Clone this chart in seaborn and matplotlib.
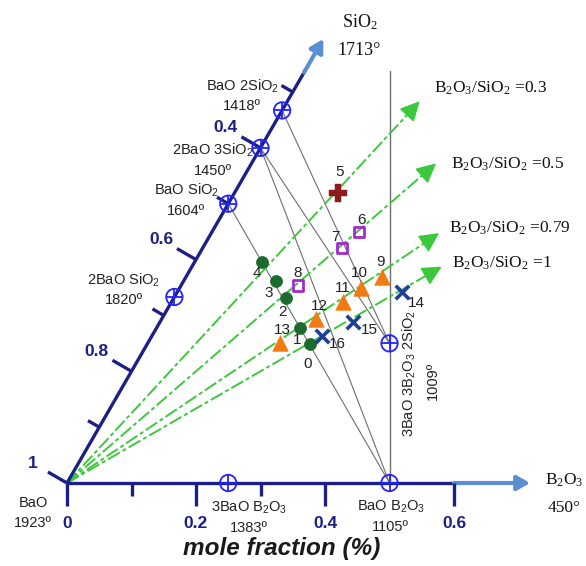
import numpy as np
import pandas as pd
import matplotlib
matplotlib.use("Agg")
import matplotlib.pyplot as plt
import seaborn as sns

# ------------------------------------------------------------------ data
# compounds of the BaO - B2O3 - SiO2 system (mole fractions)
compound_labels = ["BaO", "2BaO SiO$_\\mathsf{2}$", "BaO SiO$_\\mathsf{2}$",
                   "2BaO 3SiO$_\\mathsf{2}$", "BaO 2SiO$_\\mathsf{2}$",
                   "3BaO B$_\\mathsf{2}$O$_\\mathsf{3}$", "BaO B$_\\mathsf{2}$O$_\\mathsf{3}$",
                   "3BaO 3B$_\\mathsf{2}$O$_\\mathsf{3}$ 2SiO$_\\mathsf{2}$"]
compound_temps = ["1923º", "1820º", "1604º", "1450º", "1418º", "1383º", "1105º", "1009º"]
compound_b2o3 = [0.0, 0.0, 0.0, 0.0, 0.0, 0.25, 0.5, 0.375]
compound_sio2 = [0.0, 0.333, 0.5, 0.6, 0.667, 0.0, 0.0, 0.25]

# tie lines between compounds (indices)
tie_lines = [(3, 6), (3, 7), (4, 7), (2, 6)]

# B2O3/SiO2 ratio lines from the BaO corner
ratio_values = [0.3, 0.5, 0.79, 1.0]
ratio_labels = ["B$_2$O$_3$/SiO$_2$ =0.3", "B$_2$O$_3$/SiO$_2$ =0.5",
                "B$_2$O$_3$/SiO$_2$ =0.79", "B$_2$O$_3$/SiO$_2$ =1"]
ratio_lengths = [0.806, 0.757, 0.695, 0.671]

# glass samples 0..16
sample_ids = [str(i) for i in range(17)]
sample_b2o3 = [0.252, 0.223, 0.174, 0.143, 0.104, 0.160, 0.228, 0.216, 0.181,
               0.304, 0.281, 0.266, 0.239, 0.205, 0.348, 0.299, 0.264]
sample_sio2 = [0.249, 0.277, 0.331, 0.362, 0.396, 0.519, 0.449, 0.421, 0.354,
               0.369, 0.349, 0.324, 0.294, 0.251, 0.342, 0.288, 0.263]
sample_group = ["circle"] * 5 + ["plus"] + ["square"] * 3 + ["tri"] * 5 + ["cross"] * 3

# axis ticks
bottom_ticks = [0.0, 0.1, 0.2, 0.3, 0.4, 0.6]
bottom_labels = {0.0: "0", 0.2: "0.2", 0.4: "0.4", 0.6: "0.6"}
left_ticks_bao = [1.0, 0.9, 0.8, 0.7, 0.6, 0.5, 0.4, 0.3]
left_labels = {1.0: "1", 0.8: "0.8", 0.6: "0.6", 0.4: "0.4"}

vertex_sio2 = ("SiO$_2$", "1713°")
vertex_b2o3 = ("B$_2$O$_3$", "450°")
xlabel = "mole fraction (%)"

# ------------------------------------------------------------------ style
sns.set_theme(style="white")
plt.rcParams["mathtext.fontset"] = "custom"
plt.rcParams["mathtext.rm"] = "Liberation Serif"
plt.rcParams["mathtext.sf"] = "Liberation Sans"
plt.rcParams["mathtext.it"] = "Liberation Serif:italic"
plt.rcParams["font.family"] = ["Liberation Sans", "DejaVu Sans"]
SANS = ["Liberation Sans", "DejaVu Sans"]
SERIF = ["Liberation Serif", "DejaVu Serif"]

NAVY = "#1b1f86"
LIGHTBLUE = "#5b8fd4"
GREEN = "#3cc83c"
CBLUE = "#2222ff"
GRAY = "#6e6e6e"
TXT = "#222222"

W, H, DPI = 586, 566, 100
SCALE = 645.0
OX, OY = 67, 483
PX = 1.0 / SCALE
R3 = np.sqrt(3) / 2


def tern(b, s):
    b = np.asarray(b, float)
    s = np.asarray(s, float)
    return b + s / 2, s * R3


fig = plt.figure(figsize=(W / DPI, H / DPI), dpi=DPI)
ax = fig.add_axes([0, 0, 1, 1])
ax.set_xlim(-OX / SCALE, (W - OX) / SCALE)
ax.set_ylim(-(H - OY) / SCALE, OY / SCALE)
ax.axis("off")

u = np.array([0.5, R3])          # direction of the SiO2 edge
nrm = np.array([-R3, 0.5])       # outward normal of the SiO2 edge

# ---------------- tie lines and vertical line
cx, cy = tern(compound_b2o3, compound_sio2)
for i, j in tie_lines:
    ax.plot([cx[i], cx[j]], [cy[i], cy[j]], color=GRAY, lw=0.8, zorder=2)
ax.plot([cx[6], cx[6]], [cy[6], 412 * PX], color=GRAY, lw=1.0, zorder=2)

# ---------------- ratio lines
for r, lab, L in zip(ratio_values, ratio_labels, ratio_lengths):
    d = np.array([r + 0.5, R3])
    d = d / np.linalg.norm(d)
    tip = d * L
    back = d * (L - 14 * PX)
    ax.plot([0, back[0]], [0, back[1]], color=GREEN, lw=1.4,
            dashes=(7, 1.6, 2, 1.6), zorder=3)
    ax.annotate("", xy=tip, xytext=back,
                arrowprops=dict(arrowstyle="-|>,head_length=0.9,head_width=0.45",
                                color=GREEN, lw=1.4, shrinkA=0, shrinkB=0,
                                mutation_scale=13), zorder=3)
    off = {0.3: (14, -13), 0.5: (15, 1), 0.79: (10, -5), 1.0: (10, -3)}[r]
    ax.annotate(lab, xy=tip, xytext=(off[0], -off[1]), textcoords="offset pixels",
                ha="left", va="center", fontsize=12.5, family=SERIF, color="#111111")

# ---------------- triangle axes
s_end = 0.739
ax.plot([0, s_end * u[0]], [0, s_end * u[1]], color=NAVY, lw=2.4,
        solid_capstyle="butt", zorder=4)
ax.plot([0, 0.603], [0, 0], color=NAVY, lw=2.4, solid_capstyle="butt", zorder=4)
ax.annotate("", xy=0.795 * u, xytext=0.735 * u,
            arrowprops=dict(arrowstyle="-|>,head_length=0.7,head_width=0.4",
                            color=LIGHTBLUE, lw=3, shrinkA=0, shrinkB=0,
                            mutation_scale=11), zorder=4)
ax.annotate("", xy=(0.718, 0), xytext=(0.600, 0),
            arrowprops=dict(arrowstyle="-|>,head_length=0.7,head_width=0.4",
                            color=LIGHTBLUE, lw=3, shrinkA=0, shrinkB=0,
                            mutation_scale=11), zorder=4)

for t in bottom_ticks:
    major = t in bottom_labels
    L = (23 if major else 13) * PX
    ax.plot([t, t], [0, -L], color=NAVY, lw=2.4, solid_capstyle="butt", zorder=4)
    if major:
        ax.annotate(bottom_labels[t], xy=(t, 0), xytext=(0, -41),
                    textcoords="offset pixels", ha="center", va="center",
                    fontsize=12.5, fontweight="bold", color=NAVY, family=SANS)

for b in left_ticks_bao:
    s = 1 - b
    p = s * u
    major = b in left_labels
    L = (22 if major else 13) * PX
    q = p + nrm * L
    ax.plot([p[0], q[0]], [p[1], q[1]], color=NAVY, lw=2.4,
            solid_capstyle="butt", zorder=4)
    if major:
        off = nrm * 40
        ax.annotate(left_labels[b], xy=p, xytext=(off[0], off[1]),
                    textcoords="offset pixels", ha="center", va="center",
                    fontsize=12.5, fontweight="bold", color=NAVY, family=SANS)

# ---------------- compound markers & labels
sns.scatterplot(x=cx[1:], y=cy[1:], ax=ax, marker="o", s=140,
                facecolor="none", edgecolor=CBLUE, linewidth=1.3, zorder=6, legend=False)
sns.scatterplot(x=cx[1:], y=cy[1:], ax=ax, marker="+", s=140,
                color=CBLUE, linewidth=1.3, zorder=6, legend=False)

comp_offsets = {0: (-34, 20), 1: (-51, -17), 2: (-42, -13), 3: (-48, 3),
                4: (-40, -24), 5: (21, 25), 6: (1, 24)}
for k, (dx, dy) in comp_offsets.items():
    ax.annotate(compound_labels[k], xy=(cx[k], cy[k]), xytext=(dx, -dy),
                textcoords="offset pixels", ha="center", va="center",
                fontsize=10.5, color=TXT, family=SANS)
    ax.annotate(compound_temps[k], xy=(cx[k], cy[k]), xytext=(dx, -dy - 20),
                textcoords="offset pixels", ha="center", va="center",
                fontsize=10.5, color=TXT, family=SANS)
ax.annotate(compound_labels[7], xy=(cx[7], cy[7]), xytext=(20, -30),
            textcoords="offset pixels", ha="center", va="center", rotation=90,
            fontsize=10.5, color=TXT, family=SANS)
ax.annotate(compound_temps[7], xy=(cx[7], cy[7]), xytext=(43, -38),
            textcoords="offset pixels", ha="center", va="center", rotation=90,
            fontsize=10.5, color=TXT, family=SANS)

# vertex labels
tipS = 0.795 * u
ax.annotate(vertex_sio2[0], xy=tipS, xytext=(36, 17), textcoords="offset pixels",
            ha="center", va="center", fontsize=13, family=SERIF, color="#111111")
ax.annotate(vertex_sio2[1], xy=tipS, xytext=(36, -12), textcoords="offset pixels",
            ha="center", va="center", fontsize=13, family=SERIF, color="#111111")
ax.annotate(vertex_b2o3[0], xy=(0.718, 0), xytext=(15, 3), textcoords="offset pixels",
            ha="left", va="center", fontsize=12.5, family=SERIF, color="#111111")
ax.annotate(vertex_b2o3[1], xy=(0.718, 0), xytext=(18, -25), textcoords="offset pixels",
            ha="left", va="center", fontsize=12.5, family=SERIF, color="#111111")

# ---------------- samples
sx, sy = tern(sample_b2o3, sample_sio2)
df = pd.DataFrame({"x": sx, "y": sy, "id": sample_ids, "group": sample_group})

g = df[df.group == "circle"]
sns.scatterplot(data=g, x="x", y="y", ax=ax, marker="o", s=75, color="#1d6a2e",
                edgecolor="#1d6a2e", linewidth=0.5, zorder=7, legend=False)
g = df[df.group == "plus"]
sns.scatterplot(data=g, x="x", y="y", ax=ax, marker="P", s=150, color="#8e1b1b",
                edgecolor="#8e1b1b", linewidth=0.3, zorder=7, legend=False)
g = df[df.group == "square"]
sns.scatterplot(data=g, x="x", y="y", ax=ax, marker="s", s=58, facecolor="none",
                edgecolor="#a22ccb", linewidth=2.0, zorder=7, legend=False)
g = df[df.group == "tri"]
sns.scatterplot(data=g, x="x", y="y", ax=ax, marker="^", s=125, color="#f27a12",
                edgecolor="#f27a12", linewidth=0.5, zorder=7, legend=False)
g = df[df.group == "cross"]
sns.scatterplot(data=g, x="x", y="y", ax=ax, marker="x", s=95, color="#1f3f96",
                linewidth=2.6, zorder=7, legend=False)

label_offsets = [(-2, 20), (-3, 12), (-3, 14), (-7, 12), (-5, 11), (2, -21),
                 (3, -12), (-7, -11), (0, -12), (-2, -15), (-1, -15), (0, -14),
                 (3, -13), (2, -13), (15, 11), (17, 8), (15, 8)]
for (x, y, lab), (dx, dy) in zip(df[["x", "y", "id"]].values, label_offsets):
    ax.annotate(lab, xy=(x, y), xytext=(dx, -dy), textcoords="offset pixels",
                ha="center", va="center", fontsize=11, color=TXT, family=SANS,
                zorder=8)

fig.text(282 / W, 1 - 548 / H, xlabel, ha="center", va="center", fontsize=17.5,
         fontweight="bold", fontstyle="italic", color="#1a1a1a", family=SANS)

fig.savefig("out.png", dpi=DPI, facecolor="white")
